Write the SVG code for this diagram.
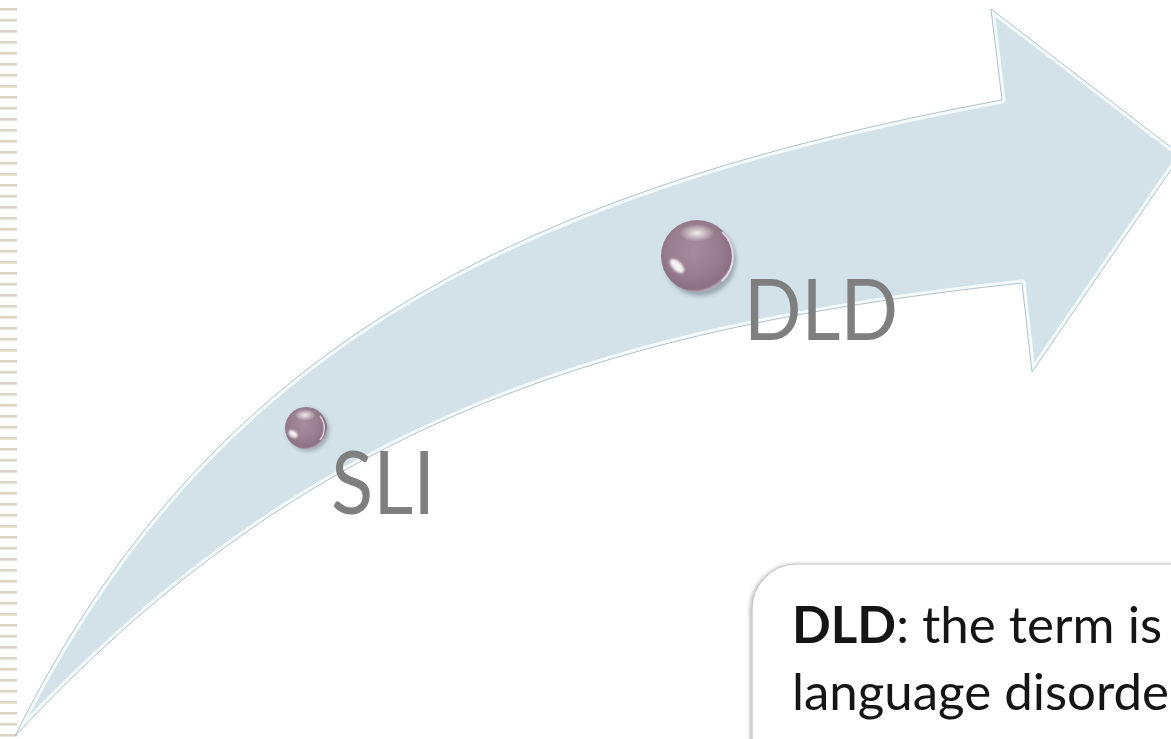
<svg xmlns="http://www.w3.org/2000/svg" width="1171" height="739" viewBox="0 0 1171 739">
  <defs>
    <style>
      .label { font-family: Lato, "Liberation Sans", sans-serif; fill: #7f7f7f; }
      .body { font-family: Lato, "Liberation Sans", sans-serif; fill: #151515; font-size: 51px; }
      .bold { font-weight: bold; }
    </style>
    <pattern id="stripes" x="0" y="8" width="17" height="11" patternUnits="userSpaceOnUse">
      <rect x="0" y="0" width="17" height="2.6" fill="#dcd5c6"/>
    </pattern>
    <path id="arrowShape" d="M15,736 C206,350 515,190 1002,100 L991,9 L1181,155 L1032,372 L1022,283 C574,331 294,437 15,736 Z"/>
    <clipPath id="arrowClip"><use href="#arrowShape"/></clipPath>
    <radialGradient id="pearl" cx="0.45" cy="0.42" r="0.6">
      <stop offset="0" stop-color="#a58b9b"/>
      <stop offset="0.6" stop-color="#977d8d"/>
      <stop offset="0.9" stop-color="#8a7080"/>
      <stop offset="1" stop-color="#c9bdd0"/>
    </radialGradient>
    <radialGradient id="topHi" cx="0.5" cy="0.5" r="0.5">
      <stop offset="0" stop-color="#ffffff" stop-opacity="0.85"/>
      <stop offset="1" stop-color="#ffffff" stop-opacity="0"/>
    </radialGradient>
    <filter id="blur2" x="-50%" y="-50%" width="200%" height="200%">
      <feGaussianBlur stdDeviation="2"/>
    </filter>
    <filter id="blur1" x="-50%" y="-50%" width="200%" height="200%">
      <feGaussianBlur stdDeviation="1"/>
    </filter>
    <filter id="boxShadow" x="-10%" y="-10%" width="120%" height="120%">
      <feGaussianBlur in="SourceAlpha" stdDeviation="2"/>
      <feOffset dx="-1" dy="1"/>
      <feComponentTransfer><feFuncA type="linear" slope="0.35"/></feComponentTransfer>
      <feMerge><feMergeNode/><feMergeNode in="SourceGraphic"/></feMerge>
    </filter>
  </defs>

  <rect x="0" y="0" width="1171" height="739" fill="#ffffff"/>

  <g id="stripes-bar">
    <rect x="0" y="0" width="17" height="739" fill="url(#stripes)"/>
  </g>

  <g id="arrow">
    <use href="#arrowShape" fill="#d3e2e9"/>
    <g clip-path="url(#arrowClip)">
      <use href="#arrowShape" fill="none" stroke="#f4fbfd" stroke-width="7" stroke-linejoin="round"/>
    </g>
    <use href="#arrowShape" fill="none" stroke="#a9bcc5" stroke-width="0.9" stroke-linejoin="miter"/>
  </g>

  <g id="node-sli">
    <circle cx="308" cy="430" r="21" fill="#2f3a40" opacity="0.35" filter="url(#blur2)"/>
    <circle cx="306" cy="428" r="21" fill="url(#pearl)"/>
    <ellipse cx="305" cy="415" rx="11" ry="6" fill="url(#topHi)"/>
    <ellipse cx="293" cy="434" rx="5" ry="3.2" fill="#ffffff" opacity="0.9" transform="rotate(35 293 434)" filter="url(#blur1)"/>
    <path d="M320,416 A19,19 0 0 1 320,440" fill="none" stroke="#f1e9f4" stroke-width="1.5" opacity="0.8"/>
    <text class="label" x="331" y="514" font-size="88" textLength="104" lengthAdjust="spacingAndGlyphs">SLI</text>
  </g>

  <g id="node-dld">
    <circle cx="700" cy="260" r="36" fill="#2f3a40" opacity="0.35" filter="url(#blur2)"/>
    <circle cx="697" cy="256" r="36" fill="url(#pearl)"/>
    <ellipse cx="697" cy="233" rx="18" ry="9" fill="url(#topHi)"/>
    <ellipse cx="677" cy="266" rx="9" ry="4.5" fill="#ffffff" opacity="0.9" transform="rotate(45 677 266)" filter="url(#blur1)"/>
    <path d="M722,232 A33,33 0 0 1 722,281" fill="none" stroke="#f1e9f4" stroke-width="2" opacity="0.8"/>
    <text class="label" x="744" y="340" font-size="86" textLength="154" lengthAdjust="spacingAndGlyphs">DLD</text>
  </g>

  <g id="textbox">
    <rect x="752" y="564" width="520" height="260" rx="45" ry="45" fill="#ffffff" stroke="#c4c4c4" stroke-width="1.2" filter="url(#boxShadow)"/>
    <text class="body" x="792" y="643" textLength="370" lengthAdjust="spacingAndGlyphs"><tspan class="bold">DLD</tspan>: the term is</text>
    <text class="body" x="792" y="710" textLength="377" lengthAdjust="spacingAndGlyphs">language disorde</text>
  </g>
</svg>
